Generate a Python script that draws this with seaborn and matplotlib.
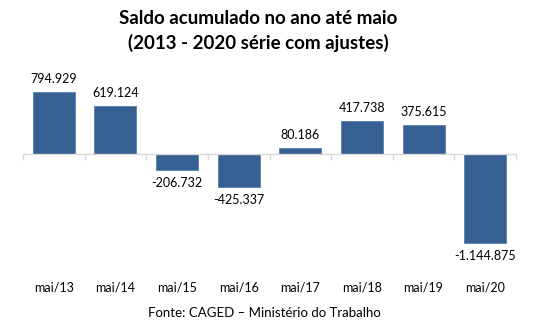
import matplotlib
matplotlib.use("Agg")
import matplotlib.pyplot as plt
import seaborn as sns
import pandas as pd

categories = ["mai/13", "mai/14", "mai/15", "mai/16", "mai/17", "mai/18", "mai/19", "mai/20"]
values = [794929, 619124, -206732, -425337, 80186, 417738, 375615, -1144875]
title = "Saldo acumulado no ano até maio\n(2013 - 2020 série com ajustes)"
source = "Fonte: CAGED – Ministério do Trabalho"

sns.set_theme(style="white")
plt.rcParams["font.family"] = ["Lato", "DejaVu Sans"]

df = pd.DataFrame({"cat": categories, "val": values})

fig = plt.figure(figsize=(5.47, 3.31), dpi=100)
W, H = 547, 331
ax_left, ax_right = 23 / W, 516 / W
ax_top, ax_bot = 1 - 80 / H, 1 - 250 / H
ax = fig.add_axes([ax_left, ax_bot, ax_right - ax_left, ax_top - ax_bot])

bar_color = "#376092"
sns.barplot(data=df, x="cat", y="val", color=bar_color, width=0.68,
            saturation=1, ax=ax, edgecolor="#5a7fb0", linewidth=0.6)

per_px = 12820
ax.set_ylim(-(250 - 154) * per_px, (154 - 80) * per_px)
ax.set_xlim(-0.5, len(categories) - 0.5)

def fmt(v):
    return f"{v:,}".replace(",", ".")

for i, v in enumerate(values):
    if v >= 0:
        ax.annotate(fmt(v), (i, v), xytext=(0, 5), textcoords="offset points",
                    ha="center", va="bottom", fontsize=9, color="#000000")
    else:
        ax.annotate(fmt(v), (i, v), xytext=(0, -5), textcoords="offset points",
                    ha="center", va="top", fontsize=9, color="#000000")

for s in ["top", "right", "left"]:
    ax.spines[s].set_visible(False)
ax.spines["bottom"].set_position(("data", 0))
ax.spines["bottom"].set_color("#d9d9d9")
ax.spines["bottom"].set_linewidth(1.0)
ax.set_yticks([])
ax.set_xlabel("")
ax.set_ylabel("")

ax.set_xticks(range(len(categories)))
ax.set_xticklabels(categories, fontsize=9, color="#000000")
ax.set_xticks([x - 0.5 for x in range(len(categories) + 1)], minor=True)
ax.tick_params(axis="x", which="major", length=0, pad=92)
ax.tick_params(axis="x", which="minor", length=4, width=1.0, color="#d9d9d9",
               direction="out", bottom=True)

fig.text(258 / W, 1 - 31 / H, title, ha="center", va="center", fontsize=13.5,
         fontweight="bold", linespacing=1.4, color="#000000")
fig.text(264 / W, 1 - 313 / H, source, ha="center", va="center", fontsize=9.5,
         color="#000000")

fig.savefig("out.png", dpi=100, facecolor="white")
